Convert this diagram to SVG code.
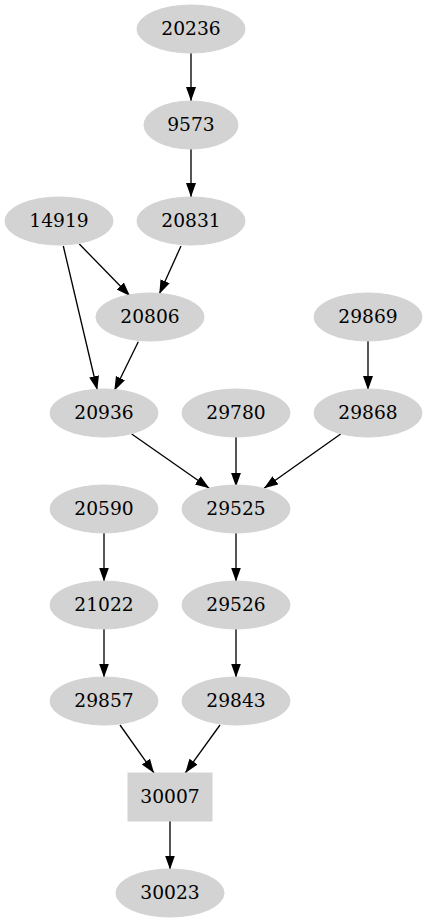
<svg xmlns="http://www.w3.org/2000/svg" width="427" height="923" viewBox="0 0 427 923">
<defs>
<style>
.n ellipse, .n rect { fill: #d3d3d3; stroke: #d3d3d3; stroke-width: 1; }
.n text { font-family: "DejaVu Serif", serif; font-size: 18.67px; fill: #000; text-anchor: middle; }
#edges line { stroke: #000; stroke-width: 1.33; fill: none; marker-end: url(#arr); }
</style>
<marker id="arr" markerUnits="userSpaceOnUse" markerWidth="15" markerHeight="11" refX="14" refY="5" orient="auto">
<path d="M0,0 L14,5 L0,10 Z" fill="#000"/>
</marker>
</defs>
<rect width="427" height="923" fill="#fff"/>
<g id="edges">
<line x1="191" y1="53" x2="191" y2="101"/>
<line x1="191" y1="149" x2="191" y2="197"/>
<line x1="79.3" y1="244" x2="130" y2="296"/>
<line x1="63.3" y1="246" x2="97.3" y2="390"/>
<line x1="181" y1="246" x2="159.3" y2="294"/>
<line x1="138.3" y1="341.7" x2="114.3" y2="390.7"/>
<line x1="131.7" y1="434" x2="209.3" y2="488.3"/>
<line x1="236" y1="437" x2="236" y2="486.7"/>
<line x1="340.7" y1="434" x2="264" y2="488.3"/>
<line x1="368" y1="341" x2="368" y2="390"/>
<line x1="104" y1="533" x2="104" y2="581.5"/>
<line x1="104" y1="629" x2="104" y2="677.5"/>
<line x1="236" y1="533" x2="236" y2="581.5"/>
<line x1="236" y1="629" x2="236" y2="677.5"/>
<line x1="120" y1="725" x2="154" y2="773"/>
<line x1="220" y1="725" x2="185.3" y2="773"/>
<line x1="170" y1="821" x2="170" y2="869.5"/>
</g>
<g id="n20236" class="n"><ellipse cx="191" cy="29" rx="54" ry="24"/><text x="191" y="34.5">20236</text></g>
<g id="n9573" class="n"><ellipse cx="191" cy="125" rx="47" ry="24"/><text x="191" y="130.5">9573</text></g>
<g id="n14919" class="n"><ellipse cx="59" cy="221" rx="54" ry="24"/><text x="59" y="226.5">14919</text></g>
<g id="n20831" class="n"><ellipse cx="191" cy="221" rx="54" ry="24"/><text x="191" y="226.5">20831</text></g>
<g id="n20806" class="n"><ellipse cx="150" cy="317" rx="54" ry="24"/><text x="150" y="322.5">20806</text></g>
<g id="n29869" class="n"><ellipse cx="368" cy="317" rx="54" ry="24"/><text x="368" y="322.5">29869</text></g>
<g id="n20936" class="n"><ellipse cx="104" cy="413" rx="54" ry="24"/><text x="104" y="418.5">20936</text></g>
<g id="n29780" class="n"><ellipse cx="236" cy="413" rx="54" ry="24"/><text x="236" y="418.5">29780</text></g>
<g id="n29868" class="n"><ellipse cx="368" cy="413" rx="54" ry="24"/><text x="368" y="418.5">29868</text></g>
<g id="n20590" class="n"><ellipse cx="104" cy="509" rx="54" ry="24"/><text x="104" y="514.5">20590</text></g>
<g id="n29525" class="n"><ellipse cx="236" cy="509" rx="54" ry="24"/><text x="236" y="514.5">29525</text></g>
<g id="n21022" class="n"><ellipse cx="104" cy="605" rx="54" ry="24"/><text x="104" y="610.5">21022</text></g>
<g id="n29526" class="n"><ellipse cx="236" cy="605" rx="54" ry="24"/><text x="236" y="610.5">29526</text></g>
<g id="n29857" class="n"><ellipse cx="104" cy="701" rx="54" ry="24"/><text x="104" y="706.5">29857</text></g>
<g id="n29843" class="n"><ellipse cx="236" cy="701" rx="54" ry="24"/><text x="236" y="706.5">29843</text></g>
<g id="n30007" class="n"><rect x="128" y="773" width="84" height="48"/><text x="170" y="802.5">30007</text></g>
<g id="n30023" class="n"><ellipse cx="170" cy="893" rx="54" ry="24"/><text x="170" y="898.5">30023</text></g>
</svg>
